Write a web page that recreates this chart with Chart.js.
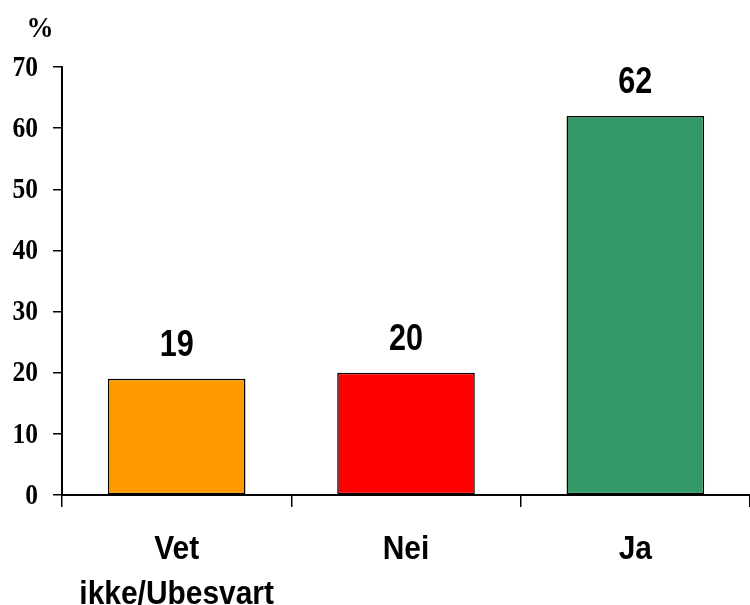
<!DOCTYPE html>
<html>
<head>
<meta charset="utf-8">
<script src="https://cdn.jsdelivr.net/npm/chart.js@4/dist/chart.umd.min.js"></script>
<style>
  html, body { margin: 0; padding: 0; background: #fff; }
  #wrap { width: 750px; height: 605px; }
</style>
</head>
<body>
<div id="wrap"><canvas id="chart" width="750" height="605"></canvas></div>
<script>
// Data
const categories = [['Vet', 'ikke/Ubesvart'], 'Nei', 'Ja'];
const values     = [19, 20, 62];
const barColors  = ['#FF9900', '#FF0000', '#339966'];
const yTicks     = [0, 10, 20, 30, 40, 50, 60, 70];
const unitLabel  = '%';

const SERIF = "'Liberation Serif', 'Times New Roman', serif";
const SANS  = "'Liberation Sans', Arial, sans-serif";

// Draws text squeezed horizontally (the original uses narrow faces)
function narrowText(ctx, text, x, y, sx) {
  ctx.save();
  ctx.translate(x, y);
  ctx.scale(sx, 1);
  ctx.fillText(text, 0, 0);
  ctx.restore();
}

// All text is drawn here: y tick labels, unit, category labels, bar values
const textPlugin = {
  id: 'texts',
  afterDraw(chart) {
    const { ctx, scales: { x, y } } = chart;
    const meta = chart.getDatasetMeta(0);
    ctx.save();
    ctx.fillStyle = '#000';

    // y tick labels
    ctx.font = `bold 30px ${SERIF}`;
    ctx.textAlign = 'right';
    ctx.textBaseline = 'middle';
    yTicks.forEach(v => {
      narrowText(ctx, String(v), y.right - 24, y.getPixelForValue(v) + 1, 0.85);
    });

    // unit label above the axis
    ctx.textAlign = 'center';
    narrowText(ctx, unitLabel, y.right - 22, y.top - 38, 0.9);

    // category labels
    ctx.font = `bold 34px ${SANS}`;
    ctx.textBaseline = 'alphabetic';
    categories.forEach((c, i) => {
      const lines = Array.isArray(c) ? c : [c];
      const cx = x.getPixelForValue(i);
      lines.forEach((ln, j) => {
        narrowText(ctx, ln, cx, x.bottom + 52 + j * 45, 0.88);
      });
    });

    // values above bars
    ctx.font = `bold 36px ${SANS}`;
    ctx.textBaseline = 'middle';
    meta.data.forEach((bar, i) => {
      narrowText(ctx, String(values[i]), bar.x, bar.y - 33, 0.85);
    });
    ctx.restore();
  },
};

new Chart(document.getElementById('chart').getContext('2d'), {
  type: 'bar',
  plugins: [textPlugin],
  data: {
    labels: categories,
    datasets: [{
      data: values,
      backgroundColor: barColors,
      borderColor: '#000',
      borderWidth: 1.5,
      borderSkipped: false,
      barPercentage: 0.6,
      categoryPercentage: 1,
    }],
  },
  options: {
    responsive: false,
    animation: false,
    layout: { padding: { top: 67, left: 53, right: -2, bottom: 98 } },
    plugins: {
      legend: { display: false },
      tooltip: { enabled: false },
    },
    scales: {
      x: {
        border: { color: '#000', width: 2 },
        grid: { offset: true, drawOnChartArea: false, color: '#000', lineWidth: 1.5, tickLength: 12 },
        ticks: { display: false },
      },
      y: {
        min: 0,
        max: 70,
        afterBuildTicks(scale) { scale.ticks = yTicks.map(v => ({ value: v })); },
        border: { color: '#000', width: 2 },
        grid: { drawOnChartArea: false, color: '#000', lineWidth: 1.5, tickLength: 9 },
        ticks: { display: false },
      },
    },
  },
});
</script>
</body>
</html>
